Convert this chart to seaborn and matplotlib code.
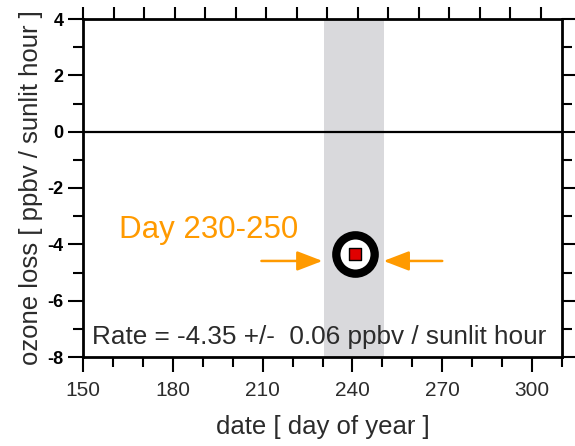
import numpy as np
import pandas as pd
import matplotlib
matplotlib.use("Agg")
import matplotlib.pyplot as plt
import seaborn as sns

# Mean ozone loss rate for the selected period
day_of_year = [241.0]
loss_rate = [-4.35]
rate_err = 0.06
period = (230.6, 250.7)
period_label = "Day 230-250"

x_ticks = [150, 180, 210, 240, 270, 300]
y_ticks = [-8, -6, -4, -2, 0, 2, 4]

sns.set_theme(style="ticks")
plt.rcParams["font.family"] = ["Liberation Sans", "DejaVu Sans"]
plt.rcParams["axes.unicode_minus"] = False

orange = "#ff9a00"
ink = "#2b2b2b"

fig = plt.figure(figsize=(5.75, 4.46), dpi=100)
ax = fig.add_axes([83 / 575, 1 - 357 / 446, (562 - 83) / 575, (357 - 19) / 446])

ax.set_xlim(150, 310)
ax.set_ylim(-8, 4)

# shaded analysis window
ax.axvspan(*period, color="#d9d9dc", lw=0, zorder=0)
ax.axhline(0, color="black", lw=1.6, zorder=1)

df = pd.DataFrame({"day": day_of_year, "rate": loss_rate})
sns.scatterplot(data=df, x="day", y="rate", ax=ax, marker="o", s=27.6 ** 2,
                facecolor="white", edgecolor="black", linewidth=6, zorder=3,
                legend=False)
sns.scatterplot(data=df, x="day", y="rate", ax=ax, marker="s", s=8 ** 2,
                color="#e00000", edgecolor="black", linewidth=1, zorder=4,
                legend=False)

# arrows pointing at the window
arrow_y = loss_rate[0] - 0.24
ax.annotate("", xy=(period[0] - 0.6, arrow_y), xytext=(209.6, arrow_y),
            arrowprops=dict(arrowstyle="-|>,head_length=1.3,head_width=0.5",
                            color=orange, lw=1.8, shrinkA=0, shrinkB=0))
ax.annotate("", xy=(period[1] - 0.3, arrow_y), xytext=(270, arrow_y),
            arrowprops=dict(arrowstyle="-|>,head_length=1.3,head_width=0.5",
                            color=orange, lw=1.8, shrinkA=0, shrinkB=0))
ax.text(162, -3.77, period_label, color=orange, fontsize=22.5,
        ha="left", va="baseline")

ax.text(153.1, -7.55,
        f"Rate = {loss_rate[0]:.2f} +/-  {rate_err:.2f} ppbv / sunlit hour",
        color=ink, fontsize=18.8, ha="left", va="baseline")

# axes styling
for s in ax.spines.values():
    s.set_linewidth(2)
    s.set_color("black")

ax.set_xticks(x_ticks)
ax.set_xticks(np.arange(150, 311, 10), minor=True)
ax.set_yticks(y_ticks)
ax.set_yticks(np.arange(-8, 4.1, 1), minor=True)
ax.tick_params(axis="both", which="major", direction="out", length=11,
               width=1.5, color="black")
ax.tick_params(axis="both", which="minor", direction="out", length=7.5,
               width=1.5, color="black")
ax.tick_params(axis="x", which="major", labelsize=15, labelcolor=ink, pad=6)
ax.tick_params(axis="y", which="major", labelsize=13, labelcolor="black",
               pad=3)
ax.tick_params(axis="y", which="both", right=True)
for lab in ax.get_yticklabels():
    lab.set_fontweight("bold")

# top tick row
top = ax.twiny()
top.set_xlim(150, 307)
top.set_xticks(np.arange(150, 301, 10))
top.set_xticklabels([])
top.tick_params(axis="x", direction="out", length=8.5, width=1.5,
                color="black")
for s in top.spines.values():
    s.set_visible(False)

ax.set_xlabel("date [ day of year ]", fontsize=18.5, color=ink, labelpad=11)
ax.set_ylabel("ozone loss [ ppbv / sunlit hour ]", fontsize=18.5, color=ink,
              labelpad=3)

fig.savefig("out.png", dpi=100)
